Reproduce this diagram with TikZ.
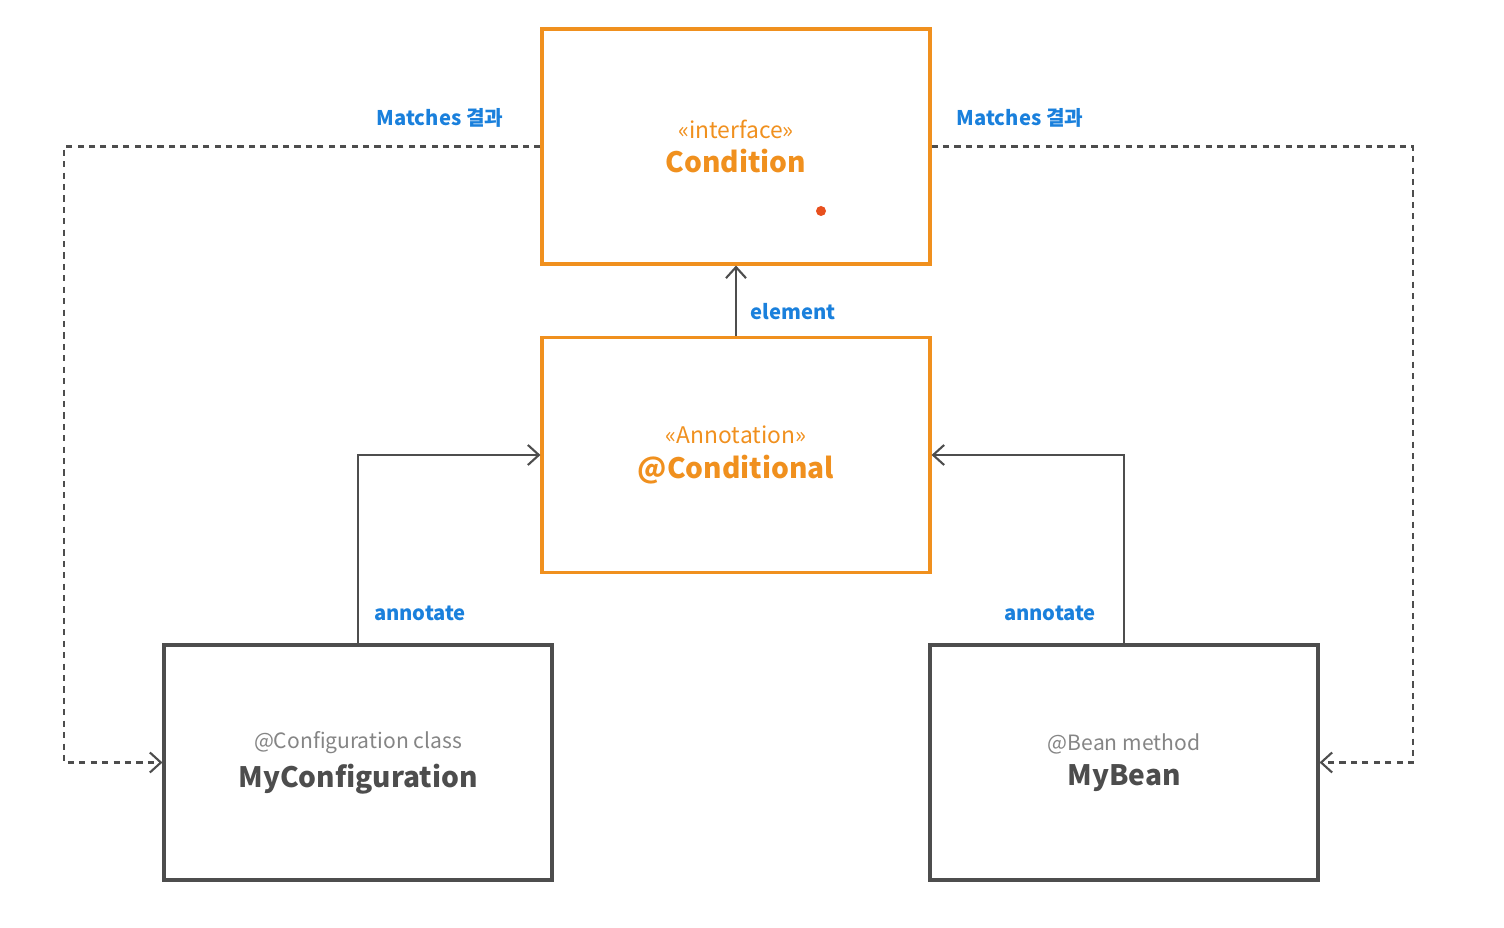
\documentclass[tikz,border=0pt]{standalone}
\usepackage{fontspec}
\setmainfont{Noto Sans CJK KR}
\usetikzlibrary{arrows.meta}
\definecolor{boxorange}{HTML}{F0901E}
\definecolor{boxgray}{HTML}{4D4D4D}
\definecolor{labelblue}{HTML}{1A80DC}
\definecolor{stereogray}{HTML}{858585}
\definecolor{pointer}{HTML}{E8501E}
\begin{document}
\begin{tikzpicture}[x=0.02cm,y=-0.02cm,
    classbox/.style={draw=boxgray,line width=1.8pt,minimum width=7.76cm,
      minimum height=4.7cm,align=center,inner sep=0pt},
    hotbox/.style={classbox,draw=boxorange},
    link/.style={draw=boxgray,line width=1.2pt,-{Straight Barb[length=2.2mm,width=4mm]}},
    result/.style={link,dash pattern=on 3.5pt off 3pt},
    tag/.style={text=labelblue,font=\bfseries\fontsize{11.5}{14}\selectfont}]
  \useasboundingbox (0,0) rectangle (1504,928);
  \node[hotbox] (condition) at (736,146.5)
    {\textcolor{boxorange}{\fontsize{13}{15}\selectfont «interface»}\\[5pt]
     \textcolor{boxorange}{\bfseries\fontsize{16}{20}\selectfont Condition}};
  \node[hotbox] (cond) at (736,455)
    {\textcolor{boxorange}{\fontsize{13}{15}\selectfont «Annotation»}\\[5pt]
     \textcolor{boxorange}{\bfseries\fontsize{16}{20}\selectfont @Conditional}};
  \node[classbox] (mycfg) at (358,762.5)
    {\textcolor{stereogray}{\fontsize{12}{14}\selectfont @Configuration class}\\[5pt]
     \textcolor{boxgray}{\bfseries\fontsize{16}{20}\selectfont MyConfiguration}};
  \node[classbox] (mybean) at (1124,762.5)
    {\textcolor{stereogray}{\fontsize{12}{14}\selectfont @Bean method}\\[5pt]
     \textcolor{boxgray}{\bfseries\fontsize{16}{20}\selectfont MyBean}};
  \fill[pointer] (821,211) circle (5);
  % corners of the dashed result lines
  \coordinate (lc) at (64,146.5);
  \coordinate (rc) at (1413,146.5);
  \draw[link] (cond.north) -- (condition.south);
  \draw[link] (mycfg.north) |- (cond.west);
  \draw[link] (mybean.north) |- (cond.east);
  \draw[result] (condition.west) -- (lc) |- (mycfg.west);
  \draw[result] (condition.east) -- (rc) |- (mybean.east);
  \node[tag] (lmatch) at (440,118) {Matches 결과};
  \node[tag] (rmatch) at (1020,118) {Matches 결과};
  \node[tag,anchor=west,inner sep=0pt] (elem) at (750,312) {element};
  \node[tag] (lanno) at (420,613) {annotate};
  \node[tag] (ranno) at (1050,613) {annotate};
\end{tikzpicture}
\end{document}
